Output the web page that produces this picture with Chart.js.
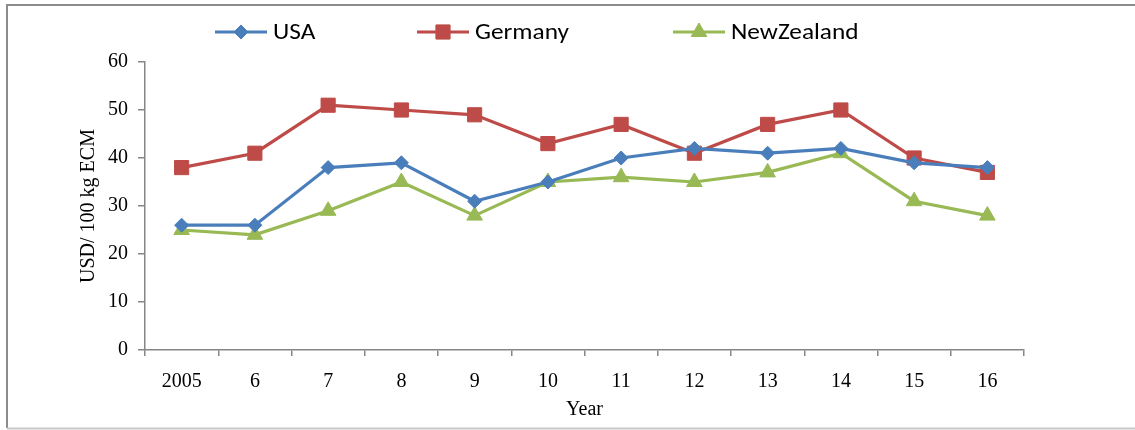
<!DOCTYPE html>
<html>
<head>
<meta charset="utf-8">
<script src="https://cdn.jsdelivr.net/npm/chart.js@4.4.1/dist/chart.umd.min.js"></script>
<style>
  html, body { margin: 0; padding: 0; background: #fff; }
  #wrap { width: 1135px; height: 430px; position: relative; }
</style>
</head>
<body>
<div id="wrap"><canvas id="c" width="1135" height="430"></canvas></div>
<script>
// Milk price per 100 kg ECM, 2005-2016
const years = ['2005', '6', '7', '8', '9', '10', '11', '12', '13', '14', '15', '16'];
const usa = [26, 26, 38, 39, 31, 35, 40, 42, 41, 42, 39, 38];
const germany = [38, 41, 51, 50, 49, 43, 47, 41, 47, 50, 40, 37];
const newZealand = [25, 24, 29, 35, 28, 35, 36, 35, 37, 41, 31, 28];
const yTicks = [0, 10, 20, 30, 40, 50, 60];

const AXIS = '#868686';
const SERIF = '"Liberation Serif", "Times New Roman", serif';
const SANS = 'Carlito, "Open Sans", "Noto Sans", sans-serif';

function series(label, data, color, style, radius) {
  return {
    label, data,
    borderColor: color, backgroundColor: color,
    borderWidth: 3.2,
    pointStyle: style, pointRadius: radius, pointHoverRadius: radius,
    pointBorderWidth: 1, pointBorderColor: color,
    tension: 0
  };
}

// Frame around the figure plus a centred legend row above the plot
const decor = {
  id: 'decor',
  beforeDraw(chart) {
    const ctx = chart.ctx;
    ctx.save();
    ctx.fillStyle = '#fff';
    ctx.fillRect(0, 0, chart.width, chart.height);
    ctx.strokeStyle = '#8c8c8c';
    ctx.lineWidth = 2;
    ctx.beginPath();
    ctx.moveTo(1140, 5);
    ctx.lineTo(7, 5);
    ctx.lineTo(7, 428);
    ctx.stroke();
    ctx.strokeStyle = '#c8c8c8';
    ctx.beginPath();
    ctx.moveTo(7, 428.5);
    ctx.lineTo(1140, 428.5);
    ctx.stroke();
    ctx.restore();
  },
  afterDraw(chart) {
    const ctx = chart.ctx;
    const starts = [215, 417, 673];
    const y = 32;
    ctx.save();
    chart.data.datasets.forEach((ds, i) => {
      const x0 = starts[i];
      const lineLen = 52;
      ctx.strokeStyle = ds.borderColor;
      ctx.lineWidth = 3.2;
      ctx.beginPath();
      ctx.moveTo(x0, y);
      ctx.lineTo(x0 + lineLen, y);
      ctx.stroke();
      ctx.fillStyle = ds.borderColor;
      ctx.strokeStyle = ds.borderColor;
      ctx.lineWidth = 1;
      Chart.helpers.drawPoint(ctx, {
        pointStyle: ds.pointStyle, radius: ds.pointRadius, borderWidth: 1, rotation: 0
      }, x0 + lineLen / 2, y);
      ctx.fillStyle = '#000';
      ctx.font = '23px ' + SANS;
      ctx.textBaseline = 'middle';
      ctx.textAlign = 'left';
      ctx.save();
      ctx.translate(x0 + lineLen + 6, y + 1);
      ctx.scale(1.1, 1);
      ctx.fillText(ds.label, 0, 0);
      ctx.restore();
    });
    ctx.restore();
  }
};

new Chart(document.getElementById('c'), {
  type: 'line',
  data: {
    labels: years,
    datasets: [
      series('USA', usa, '#4a7ebb', 'rectRot', 7),
      series('Germany', germany, '#be4b48', 'rect', 10),
      series('NewZealand', newZealand, '#98b954', 'triangle', 9)
    ]
  },
  options: {
    responsive: false,
    animation: false,
    devicePixelRatio: 1,
    layout: { padding: { top: 62, right: 111, bottom: 0, left: 0 } },
    plugins: { legend: { display: false }, tooltip: { enabled: false } },
    scales: {
      x: {
        type: 'category',
        offset: true,
        grid: { offset: true, drawOnChartArea: false, drawTicks: true, tickLength: 6, color: AXIS, lineWidth: 1.5 },
        border: { display: true, color: AXIS, width: 1.5 },
        ticks: { color: '#000', font: { family: SERIF, size: 20 }, padding: 14, maxRotation: 0, autoSkip: false },
        title: { display: true, text: 'Year', color: '#000', font: { family: SERIF, size: 20 }, padding: { top: 4, bottom: 8 } },
        afterFit(scale) { scale.height = 80; }
      },
      y: {
        min: 0, max: 60,
        afterBuildTicks(scale) { scale.ticks = yTicks.map(v => ({ value: v })); },
        grid: { drawOnChartArea: false, drawTicks: true, tickLength: 7, color: AXIS, lineWidth: 1.5 },
        border: { display: true, color: AXIS, width: 1.5 },
        ticks: { color: '#000', font: { family: SERIF, size: 20 }, padding: 10 },
        title: { display: true, text: 'USD/ 100 kg ECM', color: '#000', font: { family: SERIF, size: 20 }, padding: { top: 77, bottom: 0 } },
        afterFit(scale) { scale.width = 145; }
      }
    }
  },
  plugins: [decor]
});
</script>
</body>
</html>
